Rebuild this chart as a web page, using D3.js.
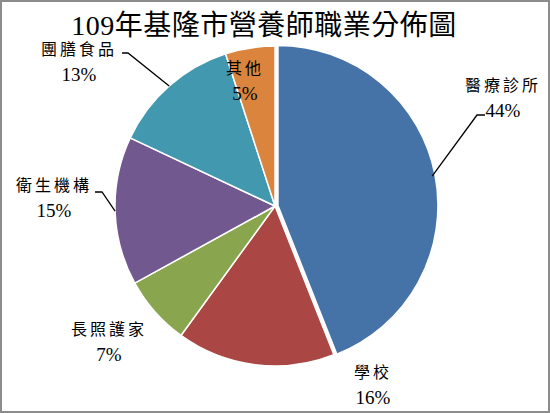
<!DOCTYPE html>
<html>
<head>
<meta charset="utf-8">
<title>109年基隆市營養師職業分佈圖</title>
<script src="https://d3js.org/d3.v7.min.js"></script>
<style>
  body { margin: 0; background: #fff; }
  text { font-family: "Liberation Serif", "Noto Sans CJK TC", serif; fill: #000; }
</style>
</head>
<body>
<div id="chart"></div>
<script>
// 資料
var categories = ["醫療診所", "學校", "長照護家", "衛生機構", "團膳食品", "其他"];
var values = [44, 16, 7, 15, 13, 5];
var colors = ["#4572A7", "#AA4643", "#89A54E", "#71588F", "#4198AF", "#DB843D"];

// 標籤位置 (版面設定)
var labelLayout = {
  "醫療診所": { x: 503, y: 91, lead: [[477, 115], [485, 115]] },
  "學校":     { x: 373, y: 378 },
  "長照護家": { x: 109, y: 335 },
  "衛生機構": { x: 54,  y: 191, lead: [[102, 192], [95, 192]] },
  "團膳食品": { x: 79,  y: 55,  lead: [[128, 53], [122, 53]] },
  "其他":     { x: 245, y: 74 }
};

var width = 550, height = 413;
var cx = 275, cy = 206, r = 160;

var svg = d3.select("#chart").append("svg")
    .attr("width", width)
    .attr("height", height);

svg.append("rect")
    .attr("x", 1).attr("y", 1)
    .attr("width", width - 2).attr("height", height - 2)
    .attr("fill", "#fff")
    .attr("stroke", "#8c8c8c")
    .attr("stroke-width", 2);

svg.append("text")
    .attr("x", 264)
    .attr("y", 35)
    .attr("text-anchor", "middle")
    .style("font-size", "28px")
    .style("letter-spacing", "0.5px")
    .text("109年基隆市營養師職業分佈圖");

var data = categories.map(function (c, i) { return { name: c, value: values[i], color: colors[i] }; });

var pie = d3.pie().sort(null).value(function (d) { return d.value; });
var arc = d3.arc().innerRadius(0).outerRadius(r);
var edge = d3.arc().innerRadius(r).outerRadius(r);

var g = svg.append("g").attr("transform", "translate(" + cx + "," + cy + ")");
var arcs = pie(data);

g.selectAll("path.slice")
    .data(arcs)
    .enter()
    .append("path")
    .attr("class", "slice")
    .attr("d", arc)
    .attr("fill", function (d) { return d.data.color; })
    .attr("stroke", "#fff")
    .attr("stroke-width", 1.5)
    .attr("transform", function (d, i) {
        if (i !== 0) return null;
        var m = (d.startAngle + d.endAngle) / 2;
        return "translate(" + (3 * Math.sin(m)) + "," + (-3 * Math.cos(m)) + ")";
    });

// 引導線
arcs.forEach(function (d) {
    var lay = labelLayout[d.data.name];
    if (!lay.lead) return;
    var p = edge.centroid(d);
    var pts = [[cx + p[0], cy + p[1]]].concat(lay.lead);
    svg.append("path")
        .attr("d", d3.line()(pts))
        .attr("fill", "none")
        .attr("stroke", "#000")
        .attr("stroke-width", 1.3);
});

// 標籤
arcs.forEach(function (d) {
    var lay = labelLayout[d.data.name];
    svg.append("text")
        .attr("x", lay.x)
        .attr("y", lay.y)
        .attr("text-anchor", "middle")
        .style("font-size", "16px")
        .style("letter-spacing", "3px")
        .text(d.data.name);
    svg.append("text")
        .attr("x", lay.x)
        .attr("y", lay.y + 26)
        .attr("text-anchor", "middle")
        .style("font-size", "19px")
        .text(d.data.value + "%");
});
</script>
</body>
</html>
